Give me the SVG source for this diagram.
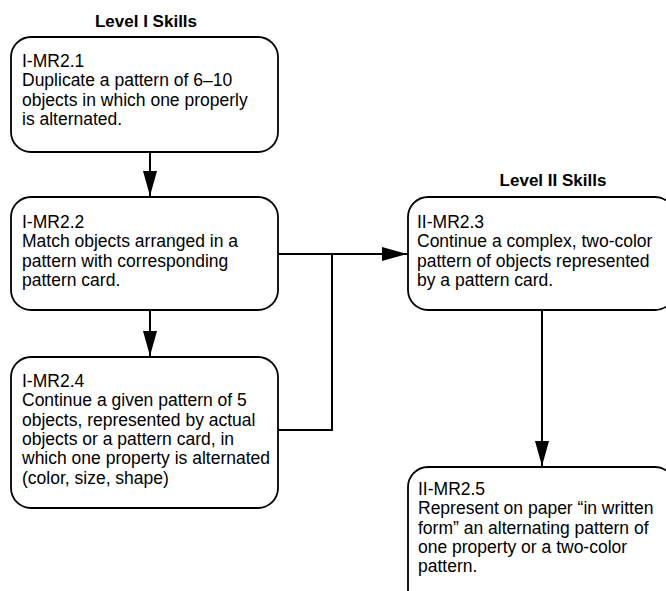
<svg xmlns="http://www.w3.org/2000/svg" width="666" height="591" viewBox="0 0 666 591">
<style>
.box{fill:#fff;stroke:#000;stroke-width:1.8}
.t{font-family:"Liberation Sans",Arial,sans-serif;font-size:17.5px;fill:#000}
.h{font-family:"Liberation Sans",Arial,sans-serif;font-size:17px;font-weight:bold;fill:#000;text-anchor:middle}
.c{fill:none;stroke:#000;stroke-width:2}
</style>
<defs>
<marker id="ah" markerUnits="userSpaceOnUse" markerWidth="26" markerHeight="16" refX="25" refY="7" orient="auto">
<path d="M0,0 L25,7 L0,14 Z" fill="#000"/>
</marker>
</defs>
<rect width="666" height="591" fill="#fff"/>
<text class="h" x="146" y="27">Level I Skills</text>
<text class="h" x="553" y="186">Level II Skills</text>
<g id="connectors">
<line class="c" x1="150" y1="152" x2="150" y2="196" marker-end="url(#ah)"/>
<line class="c" x1="150" y1="310" x2="150" y2="356" marker-end="url(#ah)"/>
<line class="c" x1="278" y1="254" x2="407" y2="254" marker-end="url(#ah)"/>
<polyline class="c" points="278,430 332,430 332,254"/>
<line class="c" x1="542" y1="310" x2="542" y2="466" marker-end="url(#ah)"/>
</g>
<g id="n1">
<rect class="box" x="11" y="37" width="267" height="115" rx="20"/>
<text class="t" x="22" y="67">I-MR2.1</text>
<text class="t" x="22" y="86.3">Duplicate a pattern of 6–10</text>
<text class="t" x="22" y="105.6">objects in which one properly</text>
<text class="t" x="22" y="124.9">is alternated.</text>
</g>
<g id="n2">
<rect class="box" x="11" y="197" width="267" height="113" rx="20"/>
<text class="t" x="22" y="228">I-MR2.2</text>
<text class="t" x="22" y="247.3">Match objects arranged in a</text>
<text class="t" x="22" y="266.6">pattern with corresponding</text>
<text class="t" x="22" y="285.9">pattern card.</text>
</g>
<g id="n4">
<rect class="box" x="11" y="357" width="267" height="151" rx="20"/>
<text class="t" x="22" y="387">I-MR2.4</text>
<text class="t" x="22" y="406.3">Continue a given pattern of 5</text>
<text class="t" x="22" y="425.6">objects, represented by actual</text>
<text class="t" x="22" y="444.9">objects or a pattern card, in</text>
<text class="t" x="22" y="464.2">which one property is alternated</text>
<text class="t" x="22" y="483.5">(color, size, shape)</text>
</g>
<g id="n3">
<rect class="box" x="408" y="197" width="267" height="113" rx="20"/>
<text class="t" x="417" y="228">II-MR2.3</text>
<text class="t" x="417" y="247.3">Continue a complex, two-color</text>
<text class="t" x="417" y="266.6">pattern of objects represented</text>
<text class="t" x="417" y="285.9">by a pattern card.</text>
</g>
<g id="n5">
<rect class="box" x="408" y="467" width="267" height="151" rx="20"/>
<text class="t" x="418" y="495">II-MR2.5</text>
<text class="t" x="418" y="514.3">Represent on paper “in written</text>
<text class="t" x="418" y="533.6">form” an alternating pattern of</text>
<text class="t" x="418" y="552.9">one property or a two-color</text>
<text class="t" x="418" y="572.2">pattern.</text>
</g>
</svg>
